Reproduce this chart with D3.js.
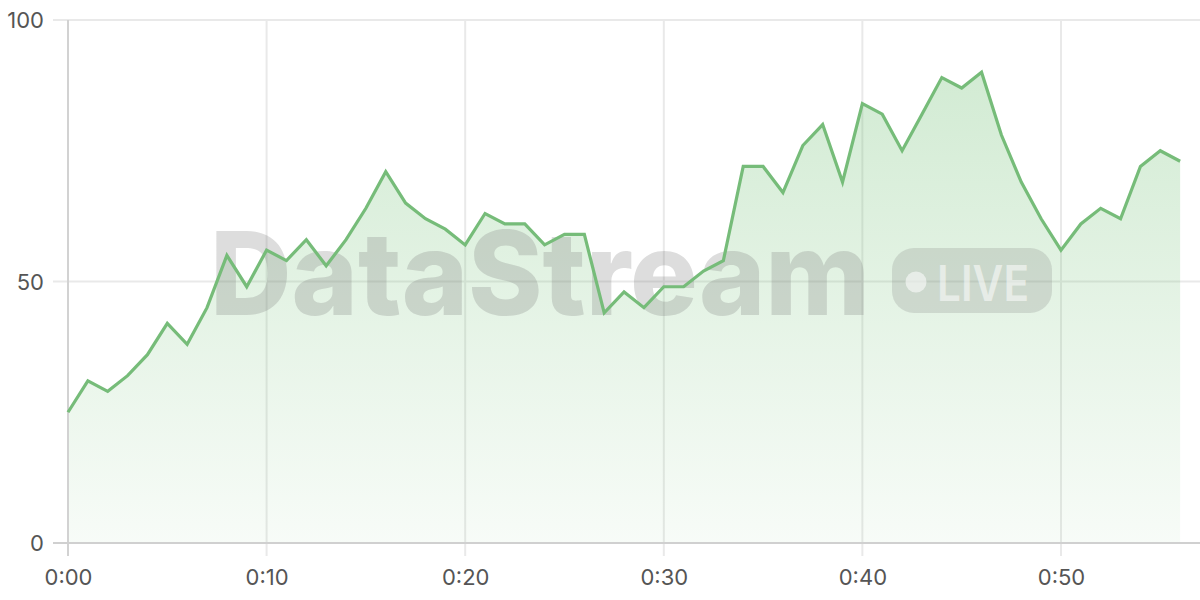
<!DOCTYPE html>
<html><head><meta charset="utf-8">
<script src="https://cdn.jsdelivr.net/npm/d3@7"></script>
<style>html,body{margin:0;padding:0;background:#fff;}svg{display:block;}</style>
</head><body><svg id="c" width="1200" height="600"></svg>
<script>
const minutes = d3.range(0, 57);
const values = [25,31,29,32,36,42,38,45,55,49,56,54,58,53,58,64,71,65,62,60,57,63,61,61,57,59,59,44,48,45,49,49,52,54,72,72,67,76,80,69,84,82,75,82,89,87,90,78,69,62,56,61,64,62,72,75,73];
const xTicks = [0,10,20,30,40,50];
const xTickLabels = ["0:00","0:10","0:20","0:30","0:40","0:50"];
const yTicks = [0,50,100];
const watermarkTitle = "DataStream";
const watermarkBadge = "LIVE";

const svg = d3.select("#c");
const W = 1200, H = 600;
const m = {left: 68, right: 0, top: 20, bottom: 57};
const x = d3.scaleLinear().domain([0, 57]).range([m.left, W - m.right]);
const y = d3.scaleLinear().domain([0, 100]).range([H - m.bottom, m.top]);
const data = minutes.map((t, i) => ({t, v: values[i]}));

const defs = svg.append("defs");
const grad = defs.append("linearGradient").attr("id", "ag")
  .attr("gradientUnits", "userSpaceOnUse")
  .attr("x1", 0).attr("x2", 0).attr("y1", y(100)).attr("y2", y(0));
grad.append("stop").attr("offset", 0).attr("stop-color", "#66bb6a").attr("stop-opacity", 0.32);
grad.append("stop").attr("offset", 1).attr("stop-color", "#66bb6a").attr("stop-opacity", 0.05);

// grid
const grid = svg.append("g");
grid.selectAll(".hg").data(yTicks).join("line")
  .attr("x1", m.left - 15).attr("x2", W)
  .attr("y1", d => y(d)).attr("y2", d => y(d))
  .attr("stroke", "#e9e9e9").attr("stroke-width", 2);
grid.selectAll(".vg").data(xTicks.slice(1)).join("line")
  .attr("x1", d => x(d)).attr("x2", d => x(d))
  .attr("y1", y(100)).attr("y2", y(0) + 13)
  .attr("stroke", "#e9e9e9").attr("stroke-width", 2);

// area
svg.append("path").datum(data)
  .attr("d", d3.area().x(d => x(d.t)).y0(y(0)).y1(d => y(d.v)))
  .attr("fill", "url(#ag)");

// watermark
const wm = svg.append("g");
wm.append("text").text(watermarkTitle)
  .attr("x", 210).attr("y", 315)
  .attr("font-family", "Inter, sans-serif")
  .attr("font-weight", 800).attr("font-size", 116)
  .attr("textLength", 660).attr("lengthAdjust", "spacingAndGlyphs")
  .attr("fill", "#7a7a7a").attr("fill-opacity", 0.26);
wm.append("rect").attr("x", 892).attr("y", 248).attr("width", 160).attr("height", 65)
  .attr("rx", 22).attr("fill", "#7a7a7a").attr("fill-opacity", 0.22);
wm.append("circle").attr("cx", 916).attr("cy", 282).attr("r", 10.5)
  .attr("fill", "#fff").attr("fill-opacity", 0.55);
wm.append("text").text(watermarkBadge)
  .attr("x", 937).attr("y", 301)
  .attr("font-family", "Inter, sans-serif").attr("font-weight", 600)
  .attr("font-size", 50)
  .attr("textLength", 92).attr("lengthAdjust", "spacingAndGlyphs")
  .attr("fill", "#fff").attr("fill-opacity", 0.55);

// axes lines
svg.append("line").attr("x1", m.left).attr("x2", m.left).attr("y1", y(100)).attr("y2", y(0) + 13)
  .attr("stroke", "#d2d2d2").attr("stroke-width", 2);
svg.append("line").attr("x1", m.left - 15).attr("x2", W).attr("y1", y(0)).attr("y2", y(0))
  .attr("stroke", "#d0d0d0").attr("stroke-width", 2);

// line
svg.append("path").datum(data)
  .attr("d", d3.line().x(d => x(d.t)).y(d => y(d.v)))
  .attr("fill", "none").attr("stroke", "#76bc79").attr("stroke-width", 3.2)
  .attr("stroke-linejoin", "miter");

// labels
const yAxis = svg.append("g").attr("transform", `translate(${m.left - 24},0)`)
  .call(d3.axisLeft(y).tickValues(yTicks).tickSize(0).tickPadding(0));
yAxis.select(".domain").remove();
yAxis.selectAll("text").attr("font-family", "Inter, sans-serif").attr("font-size", 22)
  .attr("fill", "#555").attr("dy", "0.35em");

const xAxis = svg.append("g").attr("transform", `translate(0,${y(0) + 26})`)
  .call(d3.axisBottom(x).tickValues(xTicks).tickFormat((d, i) => xTickLabels[i]).tickSize(0).tickPadding(0));
xAxis.select(".domain").remove();
xAxis.selectAll("text").attr("font-family", "Inter, sans-serif").attr("font-size", 22)
  .attr("fill", "#555").attr("dy", "0.71em");
</script></body></html>
